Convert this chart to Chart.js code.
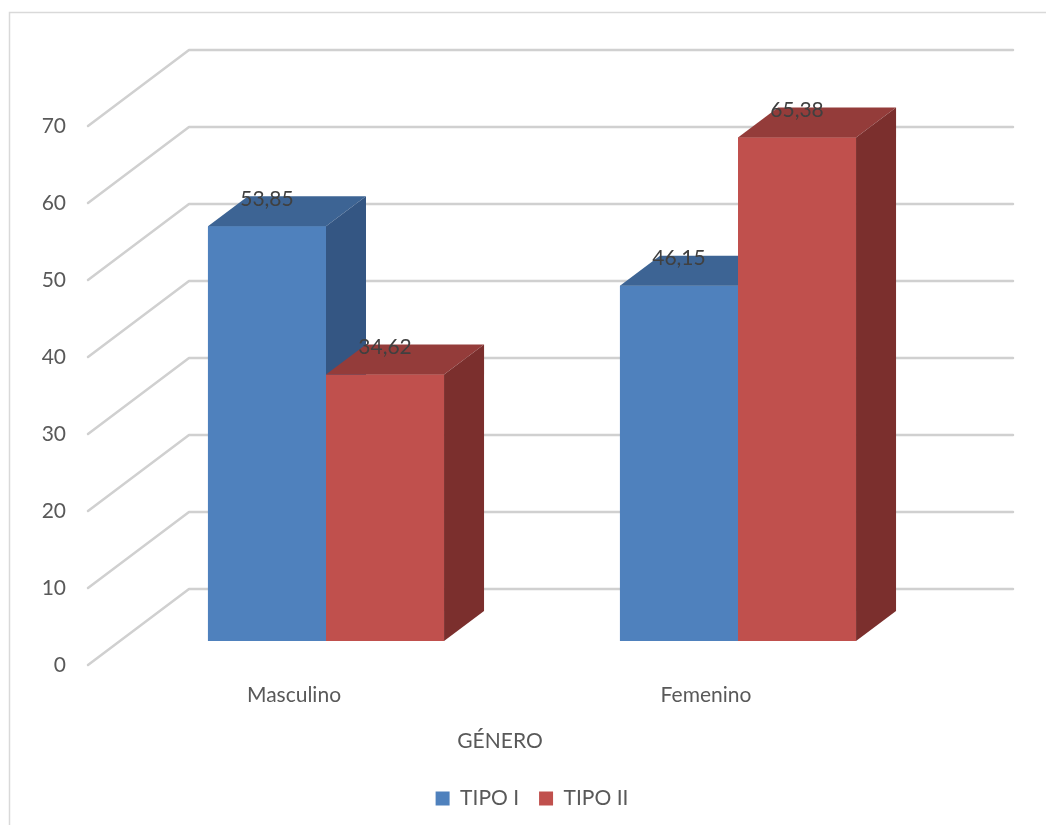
<!DOCTYPE html>
<html lang="es">
<head>
<meta charset="UTF-8">
<title>Tipo por género</title>
<script src="https://cdn.jsdelivr.net/npm/chart.js"></script>
<style>
  body { margin: 0; background: #ffffff; }
  canvas { display: block; }
</style>
</head>
<body>
<canvas id="generoChart" width="1046" height="825"></canvas>
<script>
const categorias = ['Masculino', 'Femenino'];
const series = ['TIPO I', 'TIPO II'];
const tipo1 = [53.85, 46.15];
const tipo2 = [34.62, 65.38];
const yTicks = [0, 10, 20, 30, 40, 50, 60, 70];

// colores: frente, tapa, lateral
const azul = ['#4f81bd', '#3d6494', '#345683'];
const rojo = ['#c0504d', '#943c3a', '#7b2f2d'];

// desplazamientos de la perspectiva (px) respecto al plano frontal de las barras
const FONDO = { dx: 69, dy: -52 };   // pared del fondo
const FRENTE = { dx: -32, dy: 24 };  // borde delantero del piso
const BARRA = { dx: 40, dy: -30 };   // profundidad de cada barra

Chart.defaults.font.family = 'Lato, "Open Sans", sans-serif';
Chart.defaults.font.size = 21;
Chart.defaults.color = '#595959';

function poly(ctx, pts, color) {
  ctx.fillStyle = color;
  ctx.beginPath();
  ctx.moveTo(pts[0][0], pts[0][1]);
  for (let i = 1; i < pts.length; i++) ctx.lineTo(pts[i][0], pts[i][1]);
  ctx.closePath();
  ctx.fill();
}

const efecto3d = {
  id: 'efecto3d',
  beforeDraw(chart) {
    const ctx = chart.ctx;
    ctx.save();
    ctx.strokeStyle = '#d9d9d9';
    ctx.lineWidth = 1.5;
    ctx.strokeRect(9.5, 12.5, 1100, 900);
    ctx.restore();
  },
  beforeDatasetsDraw(chart) {
    const { ctx, chartArea, scales: { y } } = chart;
    ctx.save();
    ctx.strokeStyle = '#d0d0d0';
    ctx.lineWidth = 2.5;
    ctx.lineJoin = 'round';
    ctx.lineCap = 'round';
    yTicks.forEach(v => {
      const py = y.getPixelForValue(v);
      ctx.beginPath();
      ctx.moveTo(chartArea.left + FRENTE.dx, py + FRENTE.dy);
      ctx.lineTo(chartArea.left + FONDO.dx, py + FONDO.dy);
      ctx.lineTo(chartArea.right + FONDO.dx, py + FONDO.dy);
      ctx.stroke();
    });
    ctx.restore();
  },
  afterDatasetsDraw(chart) {
    const { ctx, chartArea } = chart;
    const colores = [azul, rojo];
    const etiquetas = [];
    ctx.save();
    chart.data.datasets.forEach((ds, i) => {
      const meta = chart.getDatasetMeta(i);
      meta.data.forEach((bar, j) => {
        const { x, y, base, width } = bar.getProps(['x', 'y', 'base', 'width'], true);
        const l = x - width / 2, r = x + width / 2;
        bar.draw(ctx);
        poly(ctx, [[l, y], [r, y], [r + BARRA.dx, y + BARRA.dy], [l + BARRA.dx, y + BARRA.dy]], colores[i][1]);
        poly(ctx, [[r, y], [r + BARRA.dx, y + BARRA.dy], [r + BARRA.dx, base + BARRA.dy], [r, base]], colores[i][2]);
        etiquetas.push([ds.data[j], x, y - 27]);
      });
    });
    ctx.font = '21px Lato, "Open Sans", sans-serif';
    ctx.fillStyle = '#404040';
    ctx.textAlign = 'center';
    ctx.textBaseline = 'middle';
    etiquetas.forEach(([v, x, y]) => ctx.fillText(v.toFixed(2).replace('.', ','), x, y));
    // título del eje de categorías
    ctx.fillStyle = '#595959';
    ctx.fillText('GÉNERO', (chartArea.left + chartArea.right) / 2 + FRENTE.dx, 741);
    ctx.restore();
  }
};

new Chart(document.getElementById('generoChart'), {
  type: 'bar',
  data: {
    labels: categorias,
    datasets: [
      { label: series[0], data: tipo1, backgroundColor: azul[0], borderWidth: 0 },
      { label: series[1], data: tipo2, backgroundColor: rojo[0], borderWidth: 0 }
    ]
  },
  options: {
    responsive: false,
    animation: false,
    barPercentage: 1,
    categoryPercentage: 0.573,
    layout: { padding: { top: 102, right: 102, bottom: 6, left: 0 } },
    scales: {
      x: {
        grid: { display: false, drawTicks: false },
        border: { display: false },
        ticks: { padding: 42, labelOffset: FRENTE.dx },
        afterFit(scale) { scale.height = 127; }
      },
      y: {
        min: 0,
        max: 70,
        grid: { display: false, drawTicks: false },
        border: { display: false },
        ticks: { stepSize: 10, padding: 54, labelOffset: FRENTE.dy },
        afterFit(scale) { scale.width = 120; }
      }
    },
    plugins: {
      legend: {
        position: 'bottom',
        fullSize: false,
        labels: { boxWidth: 14, boxHeight: 14, padding: 20 }
      },
      tooltip: { enabled: false }
    }
  },
  plugins: [efecto3d]
});
</script>
</body>
</html>
